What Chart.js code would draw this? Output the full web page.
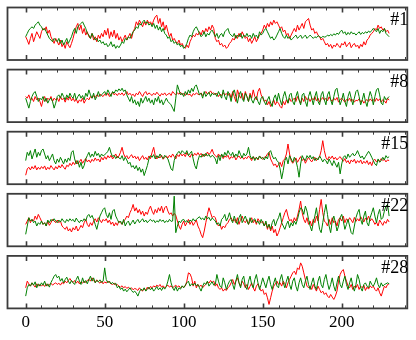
<!DOCTYPE html>
<html>
<head>
<meta charset="utf-8">
<script src="https://cdn.jsdelivr.net/npm/chart.js@4.4.0/dist/chart.umd.min.js"></script>
<style>
  html, body { margin: 0; padding: 0; background: #fff; }
  #lienzo { position: relative; width: 416px; height: 340px; overflow: hidden; }
  #lienzo canvas { position: absolute; left: 0; top: 0; }
</style>
</head>
<body>
<div id="lienzo"></div>
<script>
// muestras 0..230, una por punto
const muestras = [...Array(231).keys()];
const ticksX = [0, 50, 100, 150, 200];
const etiquetas = ['#1', '#8', '#15', '#22', '#28'];

const rojo1 = [-9,-19,-32,-14,1,-24,-9,6,-4,-14, 6,16,11,21,1,11,-9,-19,-29,-14, -24,-34,-19,-39,-29,-44,-24,-34,-42,-29, -14,6,21,31,11,26,1,16,-4,6, -9,-14,1,-19,-9,-24,-4,-14,1,-9, 11,-4,16,-14,6,-9,11,-14,1,-19, -9,-24,-14,-4,-19,-9,1,-14,6,16, 36,26,41,31,21,36,26,41,31,36, 26,41,51,56,31,46,21,36,11,26, 6,-9,1,-19,-14,-24,-29,-19,-34,-29, -39,-44,-34,-42,-24,-14,-4,-9,1,-4, 6,-4,11,1,16,6,21,11,26,16, -14,-24,-19,-34,-29,-39,-34,-44,-39,-29, -24,-14,-19,-4,-14,1,-9,6,-4,-14, -9,-24,-14,-29,-19,-9,-24,-14,-4,1, 11,26,16,31,21,36,26,41,31,36, 26,16,21,6,11,-4,1,-14,-4,6, 16,6,26,11,21,31,16,36,41,46, 26,11,16,1,6,-4,-9,-19,-14,-24, -34,-29,-39,-32,-44,-34,-39,-29,-36,-42, -29,-34,-24,-39,-32,-26,-42,-34,-29,-39, -34,-44,-32,-39,-24,-34,-19,-14,-4,1, 6,16,11,26,16,21,11,16,6,11,1];
const verde1 = [-9,1,11,16,21,16,26,31,36,26, 21,11,16,6,-4,-14,-19,-24,-14,-19, -24,-14,-29,-19,-34,-24,-14,-29,-19,-9, 6,16,1,21,26,31,36,26,16,1, -4,-14,1,-9,-19,-14,-24,-19,-29,-24, -34,-29,-39,-34,-24,-39,-32,-44,-36,-42, -34,-24,-29,-14,-19,-9,-14,-4,6,11, 21,16,31,26,36,41,31,36,26,31, 21,31,16,26,11,21,6,16,1,-4, -14,-9,-24,-19,-29,-24,-34,-29,-39,-34, -44,-39,-29,-14,-4,-9,6,16,21,11, 1,-9,-4,6,-9,1,-4,6,11,1, -9,1,-14,-4,1,-9,6,11,16,1, -4,-9,1,-14,-4,-9,1,-14,-4,-9, 1,-9,-4,-14,1,-9,-4,-14,6,-4, 1,11,16,6,-4,-14,-9,-19,-14,-4, 6,16,1,-9,-14,-4,-14,-9,-19,-14, -9,-4,-14,-9,-4,-14,-9,-4,-14,-9, -4,-9,-14,-9,-12,-6,-9,-12,-8,-10, -9,-4,-7,-2,-6,0,-4,2,-2,6, 11,1,6,-4,4,-2,6,0,2,-4, 1,6,-2,4,0,6,2,8,4,10, 16,11,6,16,1,11,6,16,1,-4,-9];

const rojo2 = [-2,-7,3,-12,-7,-17,-2,-12,-7,-17, -32,-12,-2,-17,-7,-12,-2,-17,-7,-12, -7,-17,-2,-12,-7,-19,-5,-13,-2,-15, -7,-17,-9,-22,-12,-17,-7,-22,-12,-7, -12,-2,-7,1,-5,3,-2,5,1,-2, 5,1,8,-2,5,11,3,7,1,8, 3,9,1,7,13,3,8,1,5,-2, 8,3,13,5,-2,8,13,3,9,5, 1,8,3,11,5,-1,7,3,9,1, 5,8,1,13,7,3,9,5,11,3, 7,1,9,3,5,-2,7,3,9,5, 3,9,1,7,13,5,9,15,7,9, 3,8,-2,5,1,9,3,7,1,8, -7,13,-2,-17,18,3,-7,8,-12,13, -2,-17,8,-7,18,-2,-12,13,23,3, -7,-17,-12,-27,-17,-32,-22,-12,-27,-17, -22,-32,-37,-17,-27,-12,-22,-7,-17,-12, -7,-17,-2,-12,-22,-7,-17,-2,-12,-7, -17,-7,-12,-2,-15,-7,-19,-11,-5,-13, -7,-15,-3,-11,-17,-7,-13,-5,-19,-11, -7,-13,-19,-11,-15,-7,-17,-11,-19,-13, -15,-9,-19,-13,-22,-15,-11,-17,-9,-15, -11,-17,-7,-15,-9,-19,-11,-15,-22,-7,-13];
const verde2 = [-7,-22,-37,-17,-2,8,13,-2,-17,-7, -12,-2,-17,-7,-22,-12,-7,-17,-37,-22, -2,3,-7,8,-2,-12,3,-7,8,-2, -7,8,-12,-2,5,-7,1,-12,8,-2, 18,3,-7,8,-12,-2,13,-2,3,8, 13,3,18,8,-2,13,8,18,13,21, 15,23,13,18,3,-7,-17,-2,-22,-12, -27,-17,-32,-7,-22,-12,-2,-17,-7,-22, -12,-27,-7,-17,-2,-22,-12,-27,-17,-7, -17,-22,-27,-37,-47,-7,33,18,3,8, -2,13,3,18,8,23,13,28,33,18, 3,8,-7,13,-2,5,11,-2,8,3, 8,-2,13,3,-7,18,-2,-12,13,3, -17,8,18,-2,-22,3,13,-7,-17,8, -2,-17,3,-12,-22,-7,-2,-17,-27,-7, -2,-17,-27,-12,-2,-22,-32,-7,3,-17, 8,-12,-27,-2,13,-7,-22,3,8,-17, -27,-2,13,-12,-27,3,8,-17,-32,-2, 13,-7,-27,-2,13,-17,-27,3,13,-12, -27,3,13,-12,-27,-2,18,23,-2,-27, -12,8,-17,-32,-2,13,-7,-27,-7,13, 18,-2,-27,-12,8,-17,-32,-7,13,-2, -27,-2,18,23,3,-22,-27,-2,-12,-7,-2];

const rojo3 = [-52,-33,-28,-36,-26,-33,-23,-36,-28,-34, -26,-32,-24,-36,-28,-34,-23,-30,-36,-26, -33,-23,-30,-20,-28,-34,-22,-26,-16,-23, -13,-20,-8,-18,-12,-4,-16,-8,-2,-12, -6,-14,-4,-10,0,-8,-3,-12,2,-6, 4,-4,7,0,8,-3,4,12,0,6, 17,32,12,2,7,-3,4,10,0,6, -3,4,-8,0,7,-4,2,-6,6,-2, 17,32,7,-3,4,0,8,-4,2,6, 0,8,2,12,4,-3,10,4,14,6, 12,4,16,8,2,12,6,14,8,16, 8,14,4,12,6,18,10,16,26,12, 7,2,12,4,10,-2,6,2,8,-4, 4,0,8,-6,2,6,-2,4,-4,2, -2,6,0,-8,4,-3,2,-6,6,0, -4,2,4,12,17,-3,-13,-23,-18,-28, -20,-13,-26,-8,-3,12,42,12,-8,-16, -8,0,-13,-4,4,-8,-2,-16,-6,2, -6,-12,-4,2,-8,-2,4,22,52,22, 2,-6,4,-2,6,-4,2,-6,0,4, -4,-10,-2,-14,-8,-18,-6,-12,-4,-16, -8,-14,-6,-18,-10,-16,-8,-20,-12,-23, -8,-4,-12,-6,-10,-2,-8,-4,-12,-6,-8];
const verde3 = [-8,17,7,22,-3,12,27,2,17,7, 22,27,12,-3,7,-8,2,12,-8,-18, -3,-13,2,-8,-18,-3,-13,0,-8,17, 22,-3,-18,-8,-28,-13,-33,-23,-3,7, 17,2,12,4,20,7,14,2,12,6, 10,14,20,32,15,4,8,-2,5,0, -3,7,-8,2,-6,-18,-13,-28,-23,-33, -23,-38,-28,-43,-33,-53,-38,-23,-3,7, 2,10,-3,7,0,12,4,-2,8,2, -3,-18,-33,-38,-8,7,14,20,12,22, 17,12,22,7,14,20,-3,-23,-33,-8, 7,2,12,4,14,6,10,2,8,4, -3,-18,7,-8,12,2,17,7,22,12, 7,17,2,12,4,22,10,0,14,6, 12,32,7,-3,4,-8,2,-4,6,-2, 2,-6,4,-3,17,22,7,-3,2,-8, -13,-33,-63,-38,-8,2,-18,7,-3,-13, 2,-8,-28,-58,-18,7,-3,-8,7,0, 8,-3,4,-8,0,-6,6,-2,-12,-4, -8,-18,-3,-13,-23,-8,-18,-28,-13,-48, -18,2,7,-3,12,2,8,14,6,12, 22,10,0,6,-4,4,12,20,12,2, -8,-18,-23,-3,-13,-8,2,-6,7,0,4];

const rojo4 = [-13,-3,7,-8,2,-3,12,2,17,7, -3,-13,-8,-18,-3,-16,-8,2,-3,-8, 0,-8,-3,-18,-23,-28,-20,-33,-26,-36, -23,-30,-18,-33,-26,-16,-23,-8,2,-13, -20,-8,-16,-3,4,-6,7,0,-8,2, -3,4,-8,0,-13,-6,-18,-8,-16,-3, -8,-13,-3,2,12,7,22,32,47,27, 37,22,32,17,27,12,24,17,32,42, 27,17,32,22,37,27,42,22,37,42, 27,17,22,12,20,14,-3,-18,-28,-13, -3,-18,-8,2,-13,-3,-16,-8,0,-18, -28,-43,-53,-33,-8,17,37,22,7,12, 7,-8,-18,-13,-28,-18,-23,-13,-8,2, 7,-3,2,-8,7,-13,2,12,-3,-8, 2,-13,-3,7,-8,0,-13,4,-4,-8, -3,-18,-8,-28,-13,-33,-18,-38,-28,-48, -38,-23,-8,7,22,32,12,-3,2,-8, 7,-3,12,32,57,22,2,-8,7,-13, -3,-18,2,-8,12,-3,32,62,22,-3, -8,-18,2,-13,7,-8,-3,-18,2,7, -3,12,-8,4,-3,7,0,-8,8,-4, 4,-3,10,2,-6,6,0,12,-3,4, -3,-13,-6,-18,0,-8,-16,-4,-10,2,-6];
const verde4 = [-43,-18,7,-3,2,-8,-3,-18,-8,-13, -3,-13,-8,-18,0,-8,2,-3,4,-3, -8,0,-6,4,-3,-8,2,-4,4,-2, 2,-6,6,-2,-8,0,-4,4,-3,12, 17,7,14,2,-13,-28,-8,12,22,32, 37,17,7,22,2,27,32,12,2,-8, -3,-13,2,-18,-8,-3,-16,-8,0,-12, -4,2,-8,-2,4,-6,0,-8,-2,2, -4,0,-8,-2,-6,2,-4,0,-8,-2, -6,2,-4,-3,72,-38,-18,-3,-8,0, 2,-6,-2,-8,0,-4,4,-3,2,6, 10,2,6,0,12,4,8,-2,6,2, -3,-13,-8,-18,2,7,17,-3,7,22, 2,-8,12,-3,-13,7,17,-8,2,12, -3,-13,7,-8,0,4,-8,-3,-13,2, -8,-18,-3,-23,-13,-28,-8,2,-18,-3, 7,22,-8,-18,-28,-13,-3,-23,-8,-18, -3,-13,2,22,37,32,17,42,27,2, -18,-33,-8,12,37,2,-28,-38,-8,22, 47,17,-18,-38,-3,12,-8,-33,-18,7, 17,-3,-28,-13,2,-18,-38,-43,-18,7, 22,32,2,-13,12,27,-8,-18,7,22, 37,12,-8,17,32,2,7,27,42,47,12];

const rojo5 = [-17,3,-5,-12,-2,-9,-15,-5,-12,-7, -12,-7,-13,-5,-11,-7,-3,-9,-5,-2, -7,-3,-9,-1,-5,3,-2,5,11,3, -1,5,-3,3,-5,1,-3,3,-1,5, 9,3,13,5,-1,7,1,-3,3,-5, 1,-3,3,-1,-5,-7,-3,-9,-7,-12, -15,-11,-17,-13,-19,-15,-21,-17,-23,-19, -21,-25,-17,-23,-27,-19,-25,-15,-21,-13, -17,-11,-15,-9,-13,-7,-15,-11,-17,-13, -9,-15,-11,-17,-13,-9,-15,-11,-17,-13, -15,-12,3,28,25,13,-12,3,-17,-7, -13,-9,-17,-11,-7,1,-3,5,-1,3, -12,-5,-17,-22,-17,-27,-21,-25,-17,-12, -2,8,-7,3,13,-2,-12,3,-5,-17, -7,-22,-12,-2,-17,-27,-12,-5,-17,-27, -22,-37,-32,-47,-67,-47,-27,-12,-5,3, -7,-2,-12,3,-5,-17,-2,8,18,28, 33,23,43,38,58,48,28,8,-12,-17, -12,-22,-7,-17,-27,-12,-22,-32,-27,-37, -32,-42,-47,-37,-45,-52,-42,-27,3,23, 33,38,18,3,-12,-17,-7,-22,-12,-17, -7,-22,-12,-17,-9,-25,-15,-21,-11,-17, -12,-22,-27,-17,-32,-42,-27,-12,-17,-7,-5];
const verde5 = [-42,-17,-7,-12,-2,-9,1,-17,-5,-12, -2,-9,3,-12,-5,-15,-1,8,18,23, 13,18,3,11,-2,8,15,3,-5,5, -2,-7,8,18,3,-7,13,-2,5,-5, 8,18,3,13,-2,5,1,7,-1,3, 43,8,-2,3,-5,-1,-7,-3,-17,-12, -22,-17,-27,-21,-29,-23,-17,-25,-31,-27, -33,-42,-29,-21,-25,-17,-27,-21,-15,-23, -17,-27,-21,-13,-23,-17,-25,-15,-21,-13, 3,23,-2,-17,-25,-13,-27,-17,-21,-11, -17,-9,-2,3,-12,-5,-9,-3,-11,-7, -17,-27,-12,-2,-7,3,-12,-5,1,-9, -7,23,3,-12,-17,13,-2,-22,-7,3, 8,-7,-22,3,23,-2,-17,8,18,-12, -22,3,18,-7,-17,8,23,-2,-22,-7, 13,-2,-17,3,18,-7,-22,-2,13,-12, -17,8,23,-2,-17,3,18,-7,-22,3, 13,-12,-27,-2,13,-7,-17,3,18,-7, -22,-2,13,-12,-22,3,18,-7,-17,8, 23,-2,-22,-7,13,-12,-27,-2,18,-7, -17,3,18,-7,-22,-2,13,-12,-27,-7, 23,8,-17,-27,-7,-2,-12,-17,3,-7, -12,-2,13,-7,-17,-2,-12,-7,-5,-2,-5];

const rojos = [rojo1, rojo2, rojo3, rojo4, rojo5];
const verdes = [verde1, verde2, verde3, verde4, verde5];

const ANCHO = 416, ALTO = 340;
const izq = 7.5, der = 407.3;
const alto = 52.5, paso = 62.1, primero = 7.5;
const colorMarco = '#3c3c3c';
const fuenteSerif = '"Liberation Serif", "Times New Roman", serif';

// marco y ticks hacia dentro, estilo matplotlib
const marco = {
  id: 'marco',
  afterDraw(chart, args, opts) {
    const { ctx, chartArea: a, scales: { x } } = chart;
    ctx.save();
    ctx.strokeStyle = colorMarco;
    for (let v = 0; v <= 240; v += 10) {
      const px = Math.round(x.getPixelForValue(v)) + 0.5;
      const mayor = v % 50 === 0;
      const largo = mayor ? 5 : 3;
      ctx.lineWidth = mayor ? 1.6 : 1;
      ctx.beginPath();
      ctx.moveTo(px, a.top); ctx.lineTo(px, a.top + largo);
      ctx.moveTo(px, a.bottom); ctx.lineTo(px, a.bottom - largo);
      ctx.stroke();
    }
    ctx.lineWidth = 1.8;
    ctx.strokeRect(a.left, a.top, a.right - a.left, a.bottom - a.top);

    ctx.fillStyle = '#000';
    ctx.font = '18px ' + fuenteSerif;
    ctx.textAlign = 'right';
    ctx.textBaseline = 'alphabetic';
    ctx.fillText(opts.texto, a.right + 1, a.top + 17.5);
    ctx.restore();
  }
};

function crearPanel(k) {
  const canvas = document.createElement('canvas');
  canvas.width = ANCHO;
  canvas.height = ALTO;
  document.getElementById('lienzo').appendChild(canvas);

  const ultimo = k === rojos.length - 1;
  const arriba = primero + paso * k;
  const alturaEje = ultimo ? 26 : 0;
  const abajo = ALTO - (arriba + alto) - alturaEje;

  return new Chart(canvas, {
    type: 'line',
    data: {
      labels: muestras,
      datasets: [
        { data: verdes[k], borderColor: '#008000', borderWidth: 1, pointRadius: 0, tension: 0, fill: false },
        { data: rojos[k], borderColor: '#ff0000', borderWidth: 1, pointRadius: 0, tension: 0, fill: false }
      ]
    },
    options: {
      responsive: false,
      animation: false,
      devicePixelRatio: 1,
      layout: { padding: { left: izq, right: ANCHO - der, top: arriba, bottom: abajo } },
      scales: {
        x: {
          type: 'linear',
          min: -11.5,
          max: 241.5,
          display: ultimo,
          grid: { display: false, drawTicks: false },
          border: { display: false },
          ticks: { color: '#000', padding: 4, font: { family: fuenteSerif, size: 17 } },
          afterBuildTicks: s => { s.ticks = ticksX.map(v => ({ value: v })); },
          afterFit: s => { s.height = alturaEje; }
        },
        y: { display: false, min: -79, max: 79 }
      },
      plugins: {
        legend: { display: false },
        tooltip: { enabled: false },
        marco: { texto: etiquetas[k] }
      }
    },
    plugins: [marco]
  });
}

rojos.forEach((_, k) => crearPanel(k));
</script>
</body>
</html>
